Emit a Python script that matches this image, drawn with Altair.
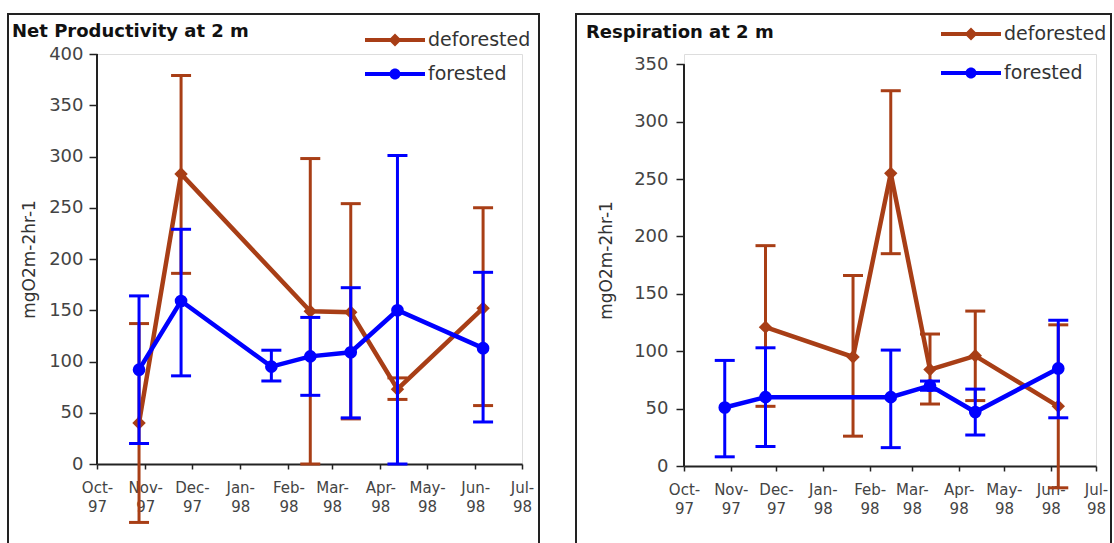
import altair as alt
import pandas as pd

BROWN = "#A83E16"
BLUE = "#0000FF"
FONT = "DejaVu Sans"

# sampling dates shared by both panels
dates = ["1997-10-28", "1997-11-24", "1998-01-21", "1998-02-15",
         "1998-03-13", "1998-04-12", "1998-06-06"]
months = [(1997, 10), (1997, 11), (1997, 12), (1998, 1), (1998, 2),
          (1998, 3), (1998, 4), (1998, 5), (1998, 6), (1998, 7)]
series = ["deforested", "forested"]

# Net Productivity at 2 m
np_def_idx = [0, 1, 3, 4, 5, 6]
np_def_val = [40, 283, 149, 148, 73, 152]
np_def_lo = [-57, 186, 0, 44, 63, 57]
np_def_hi = [137, 379, 298, 254, 84, 250]
np_for_idx = [0, 1, 2, 3, 4, 5, 6]
np_for_val = [92, 159, 95, 105, 109, 150, 113]
np_for_lo = [20, 86, 81, 67, 45, 0, 41]
np_for_hi = [164, 229, 111, 143, 172, 301, 187]

# Respiration at 2 m
rs_def_idx = [1, 2, 3, 4, 5, 6]
rs_def_val = [121, 95, 255, 84, 96, 52]
rs_def_lo = [52, 26, 185, 54, 57, -19]
rs_def_hi = [192, 166, 327, 115, 135, 123]
rs_for_idx = [0, 1, 3, 4, 5, 6]
rs_for_val = [51, 60, 60, 70, 47, 85]
rs_for_lo = [8, 17, 16, 66, 27, 42]
rs_for_hi = [92, 103, 101, 74, 67, 127]


def build(groups):
    rows = []
    for s, idx, val, lo, hi in groups:
        for i, v, a, b in zip(idx, val, lo, hi):
            rows.append({"date": dates[i] + "T00:00:00", "series": s,
                         "value": v, "lo": a, "hi": b})
    return pd.DataFrame(rows)


np_df = build([("deforested", np_def_idx, np_def_val, np_def_lo, np_def_hi),
               ("forested", np_for_idx, np_for_val, np_for_lo, np_for_hi)])
rs_df = build([("deforested", rs_def_idx, rs_def_val, rs_def_lo, rs_def_hi),
               ("forested", rs_for_idx, rs_for_val, rs_for_lo, rs_for_hi)])

SYM = ("datum.value == 'deforested' ? "
       "'M-3,-0.2H3V0.2H-3Z M0,-0.65L0.65,0L0,0.65L-0.65,0Z' : "
       "'M-3,-0.2H3V0.2H-3Z M0.55,0A0.55,0.55,0,1,1,-0.55,0A0.55,0.55,0,1,1,0.55,0Z'")


def panel(df, title, ymax, ytop, width, height, frame, leg, tdx, toff, ypad, ytpad):
    xscale = alt.Scale(domain=[alt.DateTime(year=1997, month=10, date=1),
                               alt.DateTime(year=1998, month=7, date=1)])
    xaxis = alt.Axis(values=[alt.DateTime(year=y, month=m, date=1) for y, m in months],
                     labelExpr="[timeFormat(datum.value, '%b') + '-', timeFormat(datum.value, '%y')]",
                     grid=False, labelFont=FONT, labelFontSize=15, labelColor="#444",
                     labelLineHeight=19, labelPadding=11, labelOverlap=False,
                     labelFlush=False, tickSize=5, tickColor="#222", tickWidth=1.5,
                     domainColor="#222", domainWidth=2)
    yscale = alt.Scale(domain=[0, ytop], nice=False)
    yaxis = alt.Axis(values=list(range(0, ymax + 1, 50)), grid=False, domain=False,
                     labelFont=FONT, labelFontSize=18, labelColor="#444",
                     labelPadding=ypad, tickSize=8, tickColor="#222", tickWidth=1.5,
                     labelFlush=False,
                     titleFont=FONT, titleFontSize=17, titleFontWeight="normal",
                     titleColor="#333", titlePadding=ytpad)

    def X():
        return alt.X("date:T", scale=xscale, axis=xaxis, title=None)

    def Y(f):
        return alt.Y(f + ":Q", scale=yscale, axis=yaxis, title="mgO2m-2hr-1")

    layers = []
    one = alt.Chart(pd.DataFrame({"k": [0]}))
    l, t, r, b = frame
    fr = dict(color="#222", strokeWidth=2, strokeCap="square")
    layers.append(one.mark_rule(**fr).encode(x=alt.value(l), y=alt.value(t), y2=alt.value(b)))
    layers.append(one.mark_rule(**fr).encode(x=alt.value(r), y=alt.value(t), y2=alt.value(b)))
    layers.append(one.mark_rule(**fr).encode(x=alt.value(l), x2=alt.value(r), y=alt.value(t)))
    # y axis line from 0 to the top tick
    layers.append(one.mark_rule(color="#222", strokeWidth=2).encode(
        x=alt.value(0), y=alt.Y(datum=0, scale=yscale, axis=yaxis, title="mgO2m-2hr-1"),
        y2=alt.Y2(datum=ymax)))

    for s, col, shp in zip(series, [BROWN, BLUE], ["diamond", "circle"]):
        base = alt.Chart(df).transform_filter(alt.datum.series == s)
        layers.append(base.mark_rule(color=col, strokeWidth=3).encode(
            x=X(), y=Y("lo"), y2=alt.Y2("hi")))
        layers.append(base.mark_tick(color=col, orient="horizontal", size=20,
                                     thickness=3, opacity=1).encode(x=X(), y=Y("lo")))
        layers.append(base.mark_tick(color=col, orient="horizontal", size=20,
                                     thickness=3, opacity=1).encode(x=X(), y=Y("hi")))
        layers.append(base.mark_line(color=col, strokeWidth=4.5).encode(x=X(), y=Y("value")))
        layers.append(base.mark_point(color=col, filled=True, opacity=1, shape=shp,
                                      size=180 if shp == "diamond" else 160).encode(
            x=X(), y=Y("value")))

    # legend carrier
    leg_layer = alt.Chart(df).mark_point(filled=True, opacity=0).encode(
        x=X(), y=Y("value"),
        color=alt.Color("series:N", title=None,
                        scale=alt.Scale(domain=series, range=[BROWN, BLUE]),
                        legend=alt.Legend(orient="none", legendX=leg[0], legendY=leg[1],
                                          symbolSize=400, symbolType={"expr": SYM},
                                          symbolStrokeWidth=0, symbolOpacity=1,
                                          labelFont=FONT, labelFontSize=19,
                                          labelColor="#333", labelOffset=23,
                                          rowPadding=leg[2], padding=0)))
    layers.append(leg_layer)

    return alt.layer(*layers).properties(
        width=width, height=height,
        title=alt.TitleParams(text=title, anchor="start", frame="group", dx=tdx,
                              offset=toff, baseline="alphabetic", font=FONT,
                              fontSize=18, fontWeight="bold", color="#111"))


# both plot areas start at the same top; the right one reaches 350 a little lower
left = panel(np_df, "Net Productivity at 2 m", 400, 400, 425, 410,
             (-89, -40, 442, 489), (288, -24, 14), -85, -42, 6, 10)
right = panel(rs_df, "Respiration at 2 m", 350, 359, 412, 412,
              (-108, -40, 427, 489), (277, -30, 19), -98, -43, 8, 18)

chart = alt.hconcat(left, right, spacing=33,
                    padding={"left": 6, "top": 12, "right": 0, "bottom": 0}
                    ).resolve_scale(color="independent").resolve_legend(color="independent"
                    ).configure_view(strokeWidth=0).configure(background="white")

chart.save("out.html", embed_options={"renderer": "svg", "actions": False})
